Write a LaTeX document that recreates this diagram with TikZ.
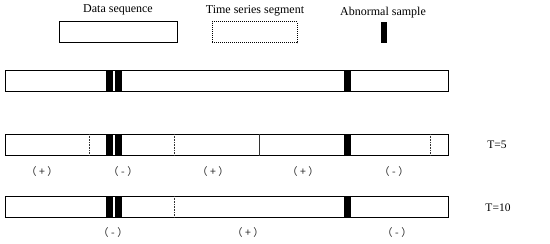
\documentclass[tikz,border=0pt]{standalone}
\usepackage{fontspec}
\setmainfont{Liberation Serif}
\newfontfamily\cjk{Noto Sans CJK SC}
\usetikzlibrary{calc, positioning}

\begin{document}
\begin{tikzpicture}[
  x=1pt, y=1pt,
  seqbox/.style={
    rectangle, draw=black, fill=white, line width=1pt,
    minimum width=443pt, minimum height=21pt, inner sep=0pt
  },
  legbox/.style={
    rectangle, draw=black, line width=1pt,
    minimum height=21pt, inner sep=0pt
  },
  anombar/.style={
    rectangle, fill=black, draw=none,
    minimum width=7pt, minimum height=21pt, inner sep=0pt
  },
  divline/.style={densely dotted, draw=black!80, line width=0.6pt},
  cutline/.style={draw=black!80, line width=0.8pt},
  signlbl/.style={font=\cjk\fontsize{10.5}{12}\selectfont, text=black!85},
  leglbl/.style={font=\fontsize{12}{14}\selectfont},
  rowlbl/.style={font=\fontsize{11.5}{14}\selectfont},
  font=\rmfamily
]
\useasboundingbox (0,0) rectangle (550,244);

% ============================================================
% Legend: box, dashed segment, abnormal bar
\node[legbox, minimum width=118pt] (legseq) at (118, 211.5) {};
\node[legbox, minimum width=85pt, densely dotted] (legseg) at (254.5, 211.5) {};
\node[anombar, minimum width=6pt] (legbar) at (384, 211.5) {};

\node[leglbl] (legseqtxt) at (118, 234) {Data sequence};
\node[leglbl] (legsegtxt) at (255, 233) {Time series segment};
\node[leglbl] (legbartxt) at (383, 231) {Abnormal sample};

% ============================================================
% Three copies of the data sequence
\node[seqbox] (row1) at (226.5, 162.5) {};
\node[seqbox] (row2) at (226.5, 99) {};
\node[seqbox] (row3) at (226.5, 37) {};

% Abnormal samples at the same positions in every row
\foreach \r in {1,2,3} {
  \node[anombar] (a\r) at ($(row\r.center)+(-117,0)$) {};
  \node[anombar] (b\r) at ($(row\r.center)+(-108,0)$) {};
  \node[anombar] (c\r) at ($(row\r.center)+(121,0)$) {};
}

% Segment borders, T=5
\foreach \px in {85, 170, 426} {
  \draw[divline] ($(row2.north west)+(\px,0)$) -- ($(row2.south west)+(\px,0)$);
}
\draw[cutline] ($(row2.north west)+(255,0)$) -- ($(row2.south west)+(255,0)$);

% Segment borders, T=10
\draw[divline] ($(row3.north west)+(170,0)$) -- ($(row3.south west)+(170,0)$);

% Segment labels
\node[signlbl] (s21) at (42, 72)  {（\hspace{2.5pt}+\hspace{2.5pt}）};
\node[signlbl] (s22) at (123, 72) {（\hspace{2.5pt}-\hspace{2.5pt}）};
\node[signlbl] (s23) at (213, 72) {（\hspace{2.5pt}+\hspace{2.5pt}）};
\node[signlbl] (s24) at (303, 72) {（\hspace{2.5pt}+\hspace{2.5pt}）};
\node[signlbl] (s25) at (394, 72) {（\hspace{2.5pt}-\hspace{2.5pt}）};

\node[signlbl] (s31) at (113, 11) {（\hspace{2.5pt}-\hspace{2.5pt}）};
\node[signlbl] (s32) at (248, 11) {（\hspace{2.5pt}+\hspace{2.5pt}）};
\node[signlbl] (s33) at (397, 11) {（\hspace{2.5pt}-\hspace{2.5pt}）};

% Window length labels
\node[rowlbl] (t5)  at (497, 99) {T=5};
\node[rowlbl] (t10) at (498, 36) {T=10};

\end{tikzpicture}
\end{document}
